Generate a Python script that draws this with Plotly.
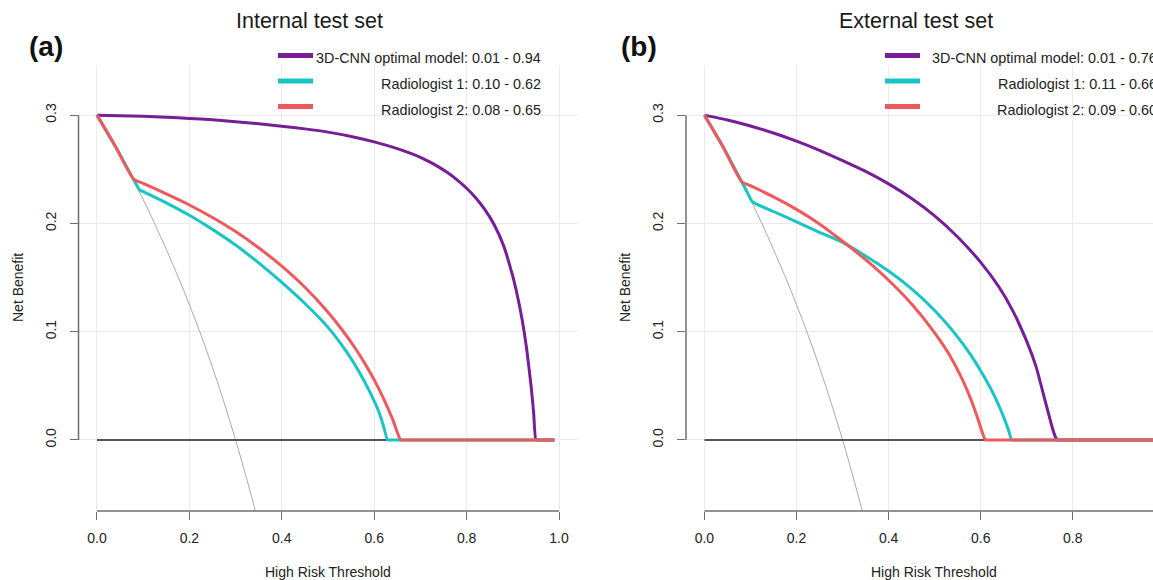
import plotly.graph_objects as go

W, H = 1153, 580

# ---------------- data ----------------
x_ticks = [0.0, 0.2, 0.4, 0.6, 0.8, 1.0]
x_ticktext = ["0.0", "0.2", "0.4", "0.6", "0.8", "1.0"]
y_ticks = [0.0, 0.1, 0.2, 0.3]
y_ticktext = ["0.0", "0.1", "0.2", "0.3"]

panel_titles = ["Internal test set", "External test set"]
panel_tags = ["(a)", "(b)"]
series_names = ["3D-CNN optimal model", "Radiologist 1", "Radiologist 2"]
series_colors = ["#771E96", "#19C4C6", "#EE5A5C"]
ranges_internal = ["0.01 - 0.94", "0.10 - 0.62", "0.08 - 0.65"]
ranges_external = ["0.01 - 0.76", "0.11 - 0.66", "0.09 - 0.60"]

# treat-all reference curve (prevalence ~0.3), same in both panels
all_x = [0.00, 0.05, 0.10, 0.15, 0.20, 0.25, 0.30, 0.35, 0.36]
all_y = [0.300, 0.263, 0.222, 0.176, 0.125, 0.067, 0.000, -0.077, -0.094]
# treat-none line
none_x = [0.0, 0.99]
none_y = [0.0, 0.0]

# Internal test set
int_cnn_x = [0.00, 0.05, 0.10, 0.15, 0.20, 0.25, 0.30, 0.35, 0.40, 0.45, 0.50, 0.55, 0.60, 0.65,
             0.70, 0.72, 0.74, 0.76, 0.78, 0.80, 0.82, 0.84, 0.86, 0.88, 0.90, 0.91, 0.92, 0.93,
             0.94, 0.945, 0.95, 0.955, 0.99]
int_cnn_y = [0.3000, 0.2995, 0.2990, 0.2980, 0.2970, 0.2957, 0.2940, 0.2920, 0.2898, 0.2873, 0.2843,
             0.2803, 0.2753, 0.2690, 0.2610, 0.2568, 0.2520, 0.2465, 0.2400, 0.2325, 0.2235, 0.2125,
             0.1985, 0.1795, 0.1510, 0.1330, 0.1115, 0.0840, 0.0480, 0.0255, 0.0000, 0.0000, 0.0000]
int_r1_x = [0.00, 0.04, 0.08, 0.092, 0.10, 0.15, 0.20, 0.25, 0.30, 0.35, 0.40, 0.45, 0.50, 0.54,
            0.57, 0.59, 0.61, 0.62, 0.629, 0.635, 0.99]
int_r1_y = [0.300, 0.271, 0.240, 0.231, 0.2294, 0.2190, 0.2075, 0.1945, 0.1800, 0.1635, 0.1455, 0.1260,
            0.1040, 0.0815, 0.0610, 0.0448, 0.0260, 0.0130, 0.0000, 0.0000, 0.0000]
int_r2_x = [0.00, 0.04, 0.079, 0.10, 0.15, 0.20, 0.25, 0.30, 0.35, 0.40, 0.45, 0.50, 0.53, 0.56,
            0.58, 0.60, 0.62, 0.64, 0.657, 0.663, 0.99]
int_r2_y = [0.300, 0.271, 0.241, 0.2370, 0.2272, 0.2170, 0.2055, 0.1925, 0.1775, 0.1605, 0.1410, 0.1180,
            0.1020, 0.0840, 0.0705, 0.0555, 0.0385, 0.0190, 0.0000, 0.0000, 0.0000]

# External test set
ext_cnn_x = [0.00, 0.05, 0.10, 0.15, 0.20, 0.25, 0.30, 0.35, 0.40, 0.45, 0.50, 0.55, 0.60, 0.64,
             0.67, 0.70, 0.72, 0.74, 0.755, 0.762, 0.767, 0.773, 0.99]
ext_cnn_y = [0.3000, 0.2955, 0.2900, 0.2835, 0.2760, 0.2675, 0.2580, 0.2480, 0.2365, 0.2230, 0.2070,
             0.1875, 0.1640, 0.1410, 0.1190, 0.0910, 0.0680, 0.0360, 0.0120, 0.0030, 0.0000, 0.0000,
             0.0000]
ext_r1_x = [0.00, 0.04, 0.081, 0.095, 0.103, 0.11, 0.15, 0.20, 0.25, 0.30, 0.35, 0.40, 0.45, 0.50,
            0.55, 0.58, 0.61, 0.63, 0.65, 0.66, 0.6675, 0.673, 0.99]
ext_r1_y = [0.300, 0.271, 0.2385, 0.227, 0.2205, 0.2185, 0.2110, 0.2015, 0.1918, 0.1825, 0.1700, 0.1560,
            0.1395, 0.1195, 0.0950, 0.0775, 0.0565, 0.0405, 0.0210, 0.0095, 0.0000, 0.0000, 0.0000]
ext_r2_x = [0.00, 0.04, 0.081, 0.10, 0.15, 0.20, 0.25, 0.30, 0.35, 0.40, 0.45, 0.50, 0.53, 0.56,
            0.58, 0.595, 0.605, 0.61, 0.616, 0.99]
ext_r2_y = [0.300, 0.271, 0.2385, 0.2348, 0.2245, 0.2130, 0.1995, 0.1835, 0.1665, 0.1475, 0.1255, 0.0990,
            0.0800, 0.0560, 0.0360, 0.0180, 0.0050, 0.0000, 0.0000, 0.0000]

panels = [
    dict(curves=[(int_cnn_x, int_cnn_y), (int_r1_x, int_r1_y), (int_r2_x, int_r2_y)],
         ranges=ranges_internal),
    dict(curves=[(ext_cnn_x, ext_cnn_y), (ext_r1_x, ext_r1_y), (ext_r2_x, ext_r2_y)],
         ranges=ranges_external),
]

# ---------------- layout geometry (pixels) ----------------
def px(x):
    return x / W

def py(y):
    return 1 - y / H

x_domains = [[px(78.5), px(577.5)], [px(686), 1.0]]
x_ranges = [[-0.04, 1.04], [-0.04, -0.04 + (W - 686) / 460.5]]
y_domain = [py(511), py(65)]
y_range = [-0.0656, 0.3463]
x_offset = [0, 607]          # horizontal offset of second panel's decorations
title_x = [309, 916]
tag_x = [46, 639]
xlabel_x = [328, 934]
ylabel_x = [18, 625]
legend_text_right = [543, 1159]

fig = go.Figure()

for i, pan in enumerate(panels):
    xa = "x" if i == 0 else "x2"
    ya = "y" if i == 0 else "y2"
    fig.add_trace(go.Scatter(x=all_x, y=all_y, mode="lines", xaxis=xa, yaxis=ya,
                             line=dict(color="#AAAAAA", width=1, shape="spline", smoothing=1),
                             hoverinfo="skip"))
    fig.add_trace(go.Scatter(x=none_x, y=none_y, mode="lines", xaxis=xa, yaxis=ya,
                             line=dict(color="#555555", width=2), hoverinfo="skip"))
    for (cx, cy), col, nm in zip(pan["curves"], series_colors, series_names):
        fig.add_trace(go.Scatter(x=cx, y=cy, mode="lines", xaxis=xa, yaxis=ya, name=nm,
                                 line=dict(color=col, width=3, shape="spline", smoothing=0.5)))

axis_common = dict(showline=False, zeroline=False, showgrid=True, gridcolor="#EBEBEB", gridwidth=1,
                   ticks="outside", ticklen=8, tickwidth=1, tickcolor="#6E6E6E",
                   tickfont=dict(size=14, color="#222222"))

layout = dict(
    width=W, height=H, margin=dict(l=0, r=0, t=0, b=0),
    paper_bgcolor="white", plot_bgcolor="white", showlegend=False,
    font=dict(family="Liberation Sans, Arial, sans-serif", size=14, color="#222222"),
)
for i in range(2):
    sx = "" if i == 0 else "2"
    layout["xaxis" + sx] = dict(domain=x_domains[i], range=x_ranges[i], anchor="y" + sx,
                                tickvals=x_ticks, ticktext=x_ticktext, ticklabelstandoff=6,
                                **axis_common)
    layout["yaxis" + sx] = dict(domain=y_domain, range=y_range, anchor="x" + sx,
                                tickvals=y_ticks, ticktext=y_ticktext, tickangle=-90,
                                ticklabelstandoff=8, **axis_common)
fig.update_layout(**layout)

shapes = []
annotations = []
for i, pan in enumerate(panels):
    sx = "" if i == 0 else "2"
    # R-style axis lines spanning only the tick range
    shapes.append(dict(type="line", xref="x" + sx + " domain", yref="y" + sx,
                       x0=0, x1=0, y0=y_ticks[0], y1=y_ticks[-1],
                       line=dict(color="#6E6E6E", width=1.5)))
    shapes.append(dict(type="line", xref="x" + sx, yref="y" + sx + " domain",
                       x0=x_ticks[0], x1=min(x_ticks[-1], x_ranges[i][1]), y0=0, y1=0,
                       line=dict(color="#6E6E6E", width=1.5)))
    off = x_offset[i]
    annotations.append(dict(text=panel_titles[i], x=px(title_x[i]), y=py(21), xref="paper", yref="paper",
                            xanchor="center", yanchor="middle", showarrow=False,
                            font=dict(size=21.5, color="#1A1A1A")))
    annotations.append(dict(text="<b>" + panel_tags[i] + "</b>", x=px(tag_x[i]), y=py(46),
                            xref="paper", yref="paper", xanchor="center", yanchor="middle",
                            showarrow=False, font=dict(size=28, color="#111111")))
    annotations.append(dict(text="High Risk Threshold", x=px(xlabel_x[i]), y=py(572), xref="paper",
                            yref="paper", xanchor="center", yanchor="middle", showarrow=False,
                            font=dict(size=14, color="#222222")))
    annotations.append(dict(text="Net Benefit", x=px(ylabel_x[i]), y=py(288), xref="paper",
                            yref="paper", xanchor="center", yanchor="middle", showarrow=False,
                            textangle=-90, font=dict(size=14, color="#222222")))
    swatch_y = [55.5, 81, 106.5]
    text_y = [57.5, 84, 110]
    for k in range(3):
        shapes.append(dict(type="line", xref="paper", yref="paper",
                           x0=px(278 + off), x1=px(313 + off), y0=py(swatch_y[k]), y1=py(swatch_y[k]),
                           line=dict(color=series_colors[k], width=5)))
        annotations.append(dict(text=series_names[k] + ": " + pan["ranges"][k],
                                x=px(legend_text_right[i]), y=py(text_y[k]), xref="paper", yref="paper",
                                xanchor="right", yanchor="middle", showarrow=False,
                                font=dict(size=14.4, color="#222222")))

fig.update_layout(shapes=shapes, annotations=annotations)
fig.write_html("out.html", config={"displayModeBar": False},
               post_script="document.body.style.margin='0';document.body.style.overflow='hidden';")
